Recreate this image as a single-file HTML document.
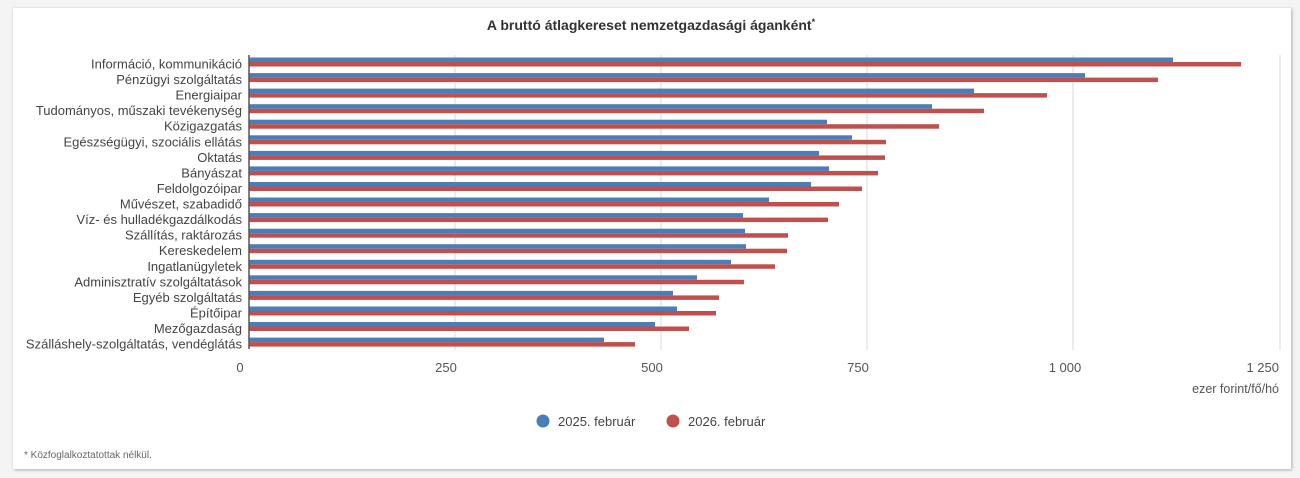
<!DOCTYPE html>
<html><head><meta charset="utf-8"><style>
html,body{margin:0;padding:0;background:#f2f2f2;}
svg{display:block;font-family:"Liberation Sans",Arial,sans-serif;}
</style></head><body>
<svg width="1300" height="478" viewBox="0 0 1300 478">
<defs><filter id="sh" x="-5%" y="-5%" width="110%" height="110%"><feDropShadow dx="1" dy="1" stdDeviation="1.5" flood-color="#000" flood-opacity="0.3"/></filter></defs>
<rect x="0" y="0" width="1300" height="478" fill="#f4f4f4"/>
<rect x="13" y="8" width="1278" height="461" fill="#fff" filter="url(#sh)"/>
<text x="651" y="30" text-anchor="middle" font-size="14" font-weight="bold" fill="#333">A bruttó átlagkereset nemzetgazdasági áganként<tspan font-size="9" dy="-5">*</tspan></text>
<g stroke="#d8d8d8" stroke-width="1">
<line x1="455" y1="55" x2="455" y2="350"/><line x1="661" y1="55" x2="661" y2="350"/><line x1="867" y1="55" x2="867" y2="350"/><line x1="1073" y1="55" x2="1073" y2="350"/><line x1="1280" y1="55" x2="1280" y2="350"/>
</g>
<g font-size="13" fill="#555" text-anchor="middle">
<text x="240" y="372">0</text><text x="446" y="372">250</text><text x="652" y="372">500</text><text x="858" y="372">750</text><text x="1065" y="372">1 000</text><text x="1279" y="372" text-anchor="end">1 250</text>
</g>
<text x="1279" y="393" text-anchor="end" font-size="12.5" fill="#555">ezer forint/fő/hó</text>
<g id="bars">
<rect x="249" y="57.5" width="924" height="4.5" fill="#4a7ebb"/><rect x="249" y="62" width="992" height="4.5" fill="#c0504d"/>
<rect x="249" y="73.1" width="836" height="4.5" fill="#4a7ebb"/><rect x="249" y="77.6" width="909" height="4.5" fill="#c0504d"/>
<rect x="249" y="88.6" width="725" height="4.5" fill="#4a7ebb"/><rect x="249" y="93.1" width="798" height="4.5" fill="#c0504d"/>
<rect x="249" y="104.2" width="683" height="4.5" fill="#4a7ebb"/><rect x="249" y="108.7" width="735" height="4.5" fill="#c0504d"/>
<rect x="249" y="119.7" width="578" height="4.5" fill="#4a7ebb"/><rect x="249" y="124.2" width="690" height="4.5" fill="#c0504d"/>
<rect x="249" y="135.3" width="603" height="4.5" fill="#4a7ebb"/><rect x="249" y="139.8" width="637" height="4.5" fill="#c0504d"/>
<rect x="249" y="150.9" width="570" height="4.5" fill="#4a7ebb"/><rect x="249" y="155.4" width="636" height="4.5" fill="#c0504d"/>
<rect x="249" y="166.4" width="580" height="4.5" fill="#4a7ebb"/><rect x="249" y="170.9" width="629" height="4.5" fill="#c0504d"/>
<rect x="249" y="182" width="562" height="4.5" fill="#4a7ebb"/><rect x="249" y="186.5" width="613" height="4.5" fill="#c0504d"/>
<rect x="249" y="197.5" width="520" height="4.5" fill="#4a7ebb"/><rect x="249" y="202" width="590" height="4.5" fill="#c0504d"/>
<rect x="249" y="213.1" width="494" height="4.5" fill="#4a7ebb"/><rect x="249" y="217.6" width="579" height="4.5" fill="#c0504d"/>
<rect x="249" y="228.7" width="496" height="4.5" fill="#4a7ebb"/><rect x="249" y="233.2" width="539" height="4.5" fill="#c0504d"/>
<rect x="249" y="244.2" width="497" height="4.5" fill="#4a7ebb"/><rect x="249" y="248.7" width="538" height="4.5" fill="#c0504d"/>
<rect x="249" y="259.8" width="482" height="4.5" fill="#4a7ebb"/><rect x="249" y="264.3" width="526" height="4.5" fill="#c0504d"/>
<rect x="249" y="275.3" width="448" height="4.5" fill="#4a7ebb"/><rect x="249" y="279.8" width="495" height="4.5" fill="#c0504d"/>
<rect x="249" y="290.9" width="424" height="4.5" fill="#4a7ebb"/><rect x="249" y="295.4" width="470" height="4.5" fill="#c0504d"/>
<rect x="249" y="306.5" width="428" height="4.5" fill="#4a7ebb"/><rect x="249" y="311" width="467" height="4.5" fill="#c0504d"/>
<rect x="249" y="322" width="406" height="4.5" fill="#4a7ebb"/><rect x="249" y="326.5" width="440" height="4.5" fill="#c0504d"/>
<rect x="249" y="337.6" width="355" height="4.5" fill="#4a7ebb"/><rect x="249" y="342.1" width="386" height="4.5" fill="#c0504d"/>
</g>
<line x1="249" y1="55" x2="249" y2="349" stroke="#555" stroke-width="1.5"/>
<g font-size="13" fill="#444" text-anchor="end">
<text x="242" y="68.5">Információ, kommunikáció</text>
<text x="242" y="84.1">Pénzügyi szolgáltatás</text>
<text x="242" y="99.6">Energiaipar</text>
<text x="242" y="115.2">Tudományos, műszaki tevékenység</text>
<text x="242" y="130.7">Közigazgatás</text>
<text x="242" y="146.3">Egészségügyi, szociális ellátás</text>
<text x="242" y="161.9">Oktatás</text>
<text x="242" y="177.4">Bányászat</text>
<text x="242" y="193">Feldolgozóipar</text>
<text x="242" y="208.5">Művészet, szabadidő</text>
<text x="242" y="224.1">Víz- és hulladékgazdálkodás</text>
<text x="242" y="239.7">Szállítás, raktározás</text>
<text x="242" y="255.2">Kereskedelem</text>
<text x="242" y="270.8">Ingatlanügyletek</text>
<text x="242" y="286.3">Adminisztratív szolgáltatások</text>
<text x="242" y="301.9">Egyéb szolgáltatás</text>
<text x="242" y="317.5">Építőipar</text>
<text x="242" y="333">Mezőgazdaság</text>
<text x="242" y="348.6">Szálláshely-szolgáltatás, vendéglátás</text>
</g>
<circle cx="543" cy="421" r="6.5" fill="#4a7ebb"/>
<text x="558" y="426" font-size="13" fill="#444">2025. február</text>
<circle cx="673" cy="421" r="6.5" fill="#c0504d"/>
<text x="688" y="426" font-size="13" fill="#444">2026. február</text>
<text x="24" y="458" font-size="10" fill="#666">* Közfoglalkoztatottak nélkül.</text>
</svg>
</body></html>
